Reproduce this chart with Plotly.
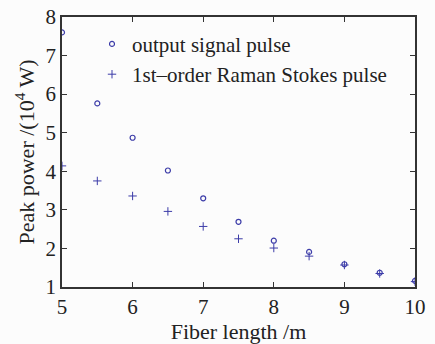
import plotly.graph_objects as go

fiber_length = [5, 5.5, 6, 6.5, 7, 7.5, 8, 8.5, 9, 9.5, 10]
signal_power = [7.60, 5.76, 4.87, 4.02, 3.30, 2.69, 2.20, 1.91, 1.59, 1.37, 1.16]
stokes_power = [4.14, 3.75, 3.36, 2.96, 2.57, 2.25, 2.01, 1.80, 1.57, 1.35, 1.14]

x_ticks = [5, 6, 7, 8, 9, 10]
y_ticks = [1, 2, 3, 4, 5, 6, 7, 8]

blue = "#3c3ca8"
font_family = "Liberation Serif"

fig = go.Figure()
fig.add_trace(go.Scatter(
    x=fiber_length, y=signal_power, mode="markers", name="output signal pulse",
    legendgroup="a",
    marker=dict(symbol="circle-open", size=5, color=blue, line=dict(width=1.2, color=blue)),
))
fig.add_trace(go.Scatter(
    x=fiber_length, y=stokes_power, mode="markers", name="1st\u2013order Raman Stokes pulse",
    legendgroup="b",
    marker=dict(symbol="cross-thin", size=6, color=blue, line=dict(width=1, color=blue)),
))

axis_common = dict(
    showline=True, linecolor="#333333", linewidth=1.5, mirror="ticks",
    ticks="inside", ticklen=5, tickcolor="#333333", tickwidth=1,
    showgrid=False, zeroline=False, automargin=False,
    tickfont=dict(family=font_family, size=21, color="#222222"),
)

fig.update_layout(
    width=435, height=344,
    margin=dict(l=62, r=20, t=17, b=57),
    paper_bgcolor="#fcfcfc", plot_bgcolor="#fcfcfc",
    font=dict(family=font_family, size=21, color="#222222"),
    xaxis=dict(range=[5, 10], tickvals=x_ticks, ticklabelstandoff=0, **axis_common,
               title=dict(text="Fiber length /m", font=dict(family=font_family, size=22), standoff=2)),
    yaxis=dict(range=[1, 8], tickvals=y_ticks, **axis_common,
               title=dict(text="Peak power /(10<sup>4</sup> W)", font=dict(family=font_family, size=22), standoff=5)),
    showlegend=True,
    legend=dict(x=0.085, y=0.975, xanchor="left", yanchor="top",
                bgcolor="rgba(0,0,0,0)", font=dict(family=font_family, size=21, color="#222222"),
                traceorder="grouped", tracegroupgap=0),
)

fig.write_html("out.html")
